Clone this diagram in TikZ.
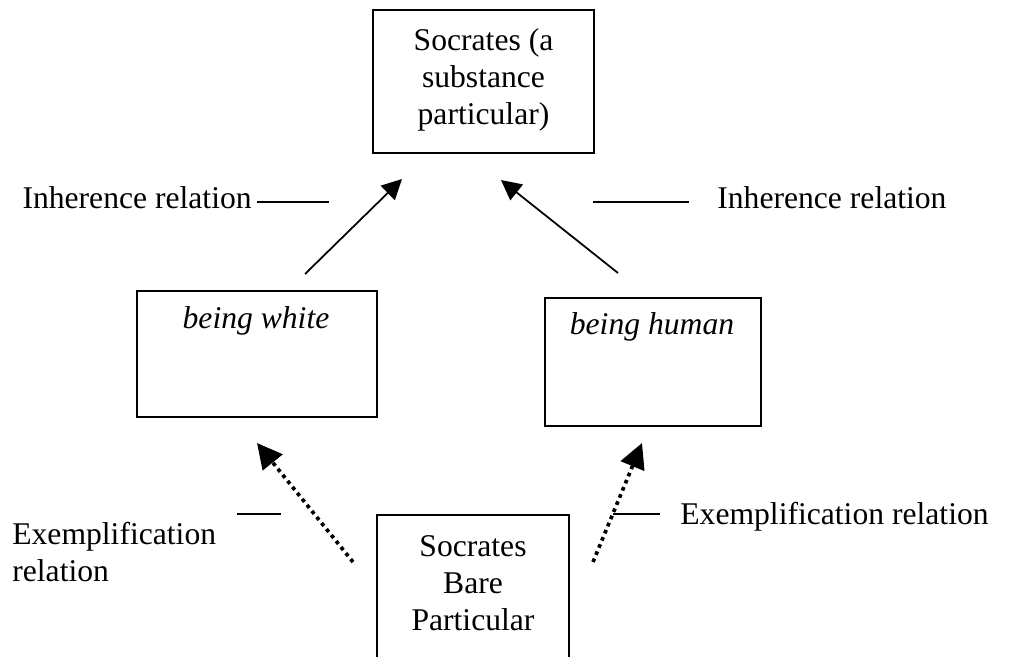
\documentclass[tikz,border=0pt]{standalone}
\usepackage{fontspec}
\setmainfont{Liberation Serif}
\usetikzlibrary{arrows.meta,positioning,calc}

\begin{document}
\begin{tikzpicture}[x=0.02cm, y=-0.02cm,
      box/.style={draw, line width=1.1pt, inner sep=0pt},
      lbl/.style={inner sep=0pt, align=center, font=\fontsize{18}{21}\selectfont},
      arrowstyle/.style={-{Triangle[length=0.4cm,width=0.4cm]}, line width=1pt},
      dotarrow/.style={-{Triangle[length=0.5cm,width=0.5cm]}, line width=2.1pt,
        dash pattern=on 2.1pt off 2.3pt},
      leader/.style={line width=1pt}
    ]
    \useasboundingbox (0,0) rectangle (1023,656);

    % Top: the substance
    \node[box, minimum width=4.42cm, minimum height=2.86cm] (subst) at (483.5,81.5) {};
    \node[lbl] (substText) at (483.5,80) {Socrates (a\\substance\\particular)};

    % Middle: the two properties
    \node[box, minimum width=4.8cm, minimum height=2.52cm] (white) at (257,354) {};
    \node[lbl, font=\fontsize{18}{21}\selectfont\itshape] (whiteText) at (256,321) {being white};
    \node[box, minimum width=4.32cm, minimum height=2.56cm] (human) at (653,362) {};
    \node[lbl, font=\fontsize{18}{21}\selectfont\itshape] (humanText) at (652,327) {being human};

    % Bottom: the bare particular (runs off the page)
    \node[box, minimum width=3.84cm, minimum height=4cm, anchor=north] (bare) at (473,514) {};
    \node[lbl] (bareText) at (473,583) {Socrates\\Bare\\Particular};

    % Relation labels
    \node[lbl, anchor=east] (inhL) at (252,198) {Inherence relation};
    \node[lbl, anchor=west] (inhR) at (717,198) {Inherence relation};
    \node[lbl, anchor=west, align=left] (exL) at (12,552) {Exemplification\\relation};
    \node[lbl, anchor=west] (exR) at (680,517) {Exemplification relation};

    % Arrow ends
    \coordinate (whiteOut) at (305,274);
    \coordinate (whiteIn) at (402,179);
    \coordinate (humanOut) at (618,273);
    \coordinate (humanIn) at (501,180);
    \coordinate (bareL) at (353,562);
    \coordinate (whiteUp) at (257,443);
    \coordinate (bareR) at (593,562);
    \coordinate (humanUp) at (642,443);

    % Arrows
    \draw[arrowstyle] (whiteOut) -- (whiteIn);
    \draw[arrowstyle] (humanOut) -- (humanIn);
    \draw[dotarrow] (bareL) -- (whiteUp);
    \draw[dotarrow] (bareR) -- (humanUp);

    % Leader lines next to the labels
    \draw[leader] ($(inhL.east)+(5,4)$) -- ++(72,0);
    \draw[leader] ($(inhR.west)+(-124,4)$) -- ++(96,0);
    \draw[leader] ($(exL.west)+(225,-38)$) -- ++(44,0);
    \draw[leader] ($(exR.west)+(-67,-3)$) -- ++(47,0);
  \end{tikzpicture}
\end{document}
